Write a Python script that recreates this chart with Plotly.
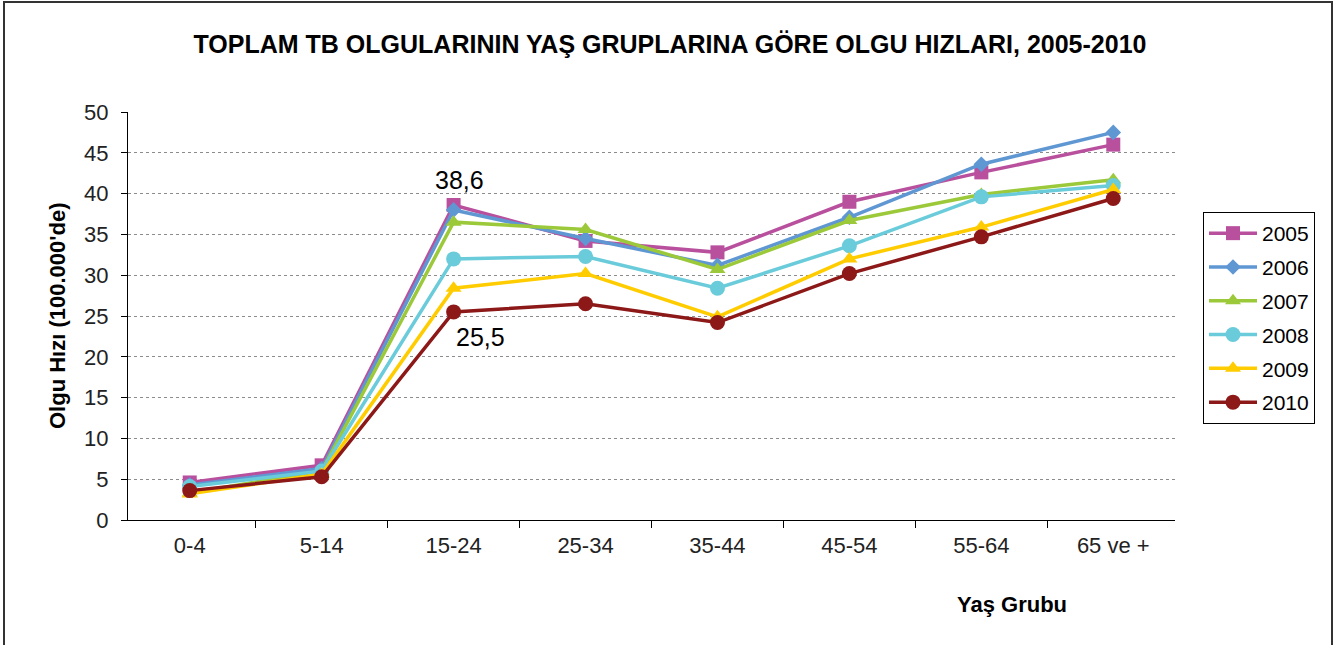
import plotly.graph_objects as go

categories = ["0-4", "5-14", "15-24", "25-34", "35-44", "45-54", "55-64", "65 ve +"]
years = ["2005", "2006", "2007", "2008", "2009", "2010"]
v2005 = [4.6, 6.7, 38.6, 34.2, 32.8, 39.0, 42.6, 46.0]
v2006 = [4.3, 6.3, 38.0, 34.5, 31.2, 37.1, 43.6, 47.5]
v2007 = [3.3, 6.0, 36.5, 35.6, 30.7, 36.7, 39.9, 41.7]
v2008 = [4.1, 6.0, 32.0, 32.3, 28.4, 33.6, 39.6, 41.0]
v2009 = [3.2, 5.6, 28.4, 30.2, 24.9, 32.0, 35.9, 40.5]
v2010 = [3.6, 5.3, 25.5, 26.5, 24.2, 30.2, 34.7, 39.4]
series = [v2005, v2006, v2007, v2008, v2009, v2010]
y_ticks = [0, 5, 10, 15, 20, 25, 30, 35, 40, 45, 50]
grid_vals = [5, 10, 15, 20, 25, 30, 35, 40, 45]

colors = ["#B9509E", "#5F97D3", "#9BC93A", "#6ACBDA", "#FFCC00", "#8C1818"]
symbols = ["square", "diamond", "triangle-up", "circle", "triangle-up", "circle"]
sizes = [14, 12, 14, 15, 14, 15]

FONT = "Liberation Sans, Arial, sans-serif"

fig = go.Figure()
for i, (yr, vals) in enumerate(zip(years, series)):
    fig.add_trace(go.Scatter(
        x=categories, y=vals, name=yr, mode="lines+markers",
        legendgroup=yr,
        line=dict(color=colors[i], width=3.5),
        marker=dict(symbol=symbols[i], size=sizes[i], color=colors[i]),
        hoverinfo="x+y+name",
    ))

# helper overlay axis for the dotted gridlines (no grid at 0 / 50)
fig.add_trace(go.Scatter(x=categories, y=v2005, yaxis="y2", mode="markers",
                         marker=dict(opacity=0), showlegend=False, hoverinfo="skip"))

# data labels
fig.add_annotation(x=categories[2], y=v2005[2], text="38,6",
                   showarrow=False, yshift=25, xshift=6, font=dict(family=FONT, size=25, color="#000"))
fig.add_annotation(x=categories[2], y=v2010[2], text="25,5",
                   showarrow=False, yshift=-25, xshift=27, font=dict(family=FONT, size=25, color="#000"))

# axis titles
fig.add_annotation(xref="paper", yref="paper", x=(57 - 128) / 1047, y=0.5,
                   text="<b>Olgu Hızı (100.000'de)</b>", textangle=-90, showarrow=False,
                   xanchor="center", yanchor="middle",
                   font=dict(family=FONT, size=22, color="#000"))
fig.add_annotation(xref="paper", yref="paper", x=(1012 - 128) / 1047, y=(520 - 604) / 408,
                   text="<b>Yaş Grubu</b>", showarrow=False,
                   xanchor="center", yanchor="middle",
                   font=dict(family=FONT, size=22, color="#000"))

# outer frame
fig.add_shape(type="rect", xref="paper", yref="paper",
              x0=(4 - 128) / 1047, x1=(1332 - 128) / 1047,
              y0=(520 - 680) / 408, y1=(520 - 2) / 408,
              line=dict(color="#333333", width=2), fillcolor="rgba(0,0,0,0)", layer="below")

fig.update_layout(
    width=1337, height=645,
    margin=dict(l=128, r=162, t=112, b=125),
    paper_bgcolor="white", plot_bgcolor="white",
    title=dict(text="<b>TOPLAM TB OLGULARININ YAŞ GRUPLARINA GÖRE OLGU HIZLARI, 2005-2010</b>",
               x=670 / 1337, xanchor="center", xref="container",
               y=1 - 44 / 645, yanchor="middle", yref="container",
               font=dict(family=FONT, size=25, color="#000")),
    font=dict(family=FONT, color="#000"),
    xaxis=dict(type="category", showgrid=False, showline=True, linecolor="#000", linewidth=1,
               ticks="outside", ticklen=7, tickcolor="#000", tickson="boundaries",
               tickfont=dict(family=FONT, size=22, color="#222"), ticklabelstandoff=6,
               zeroline=False),
    yaxis=dict(range=[0, 50], tickvals=y_ticks, showgrid=False, showline=True,
               linecolor="#000", linewidth=1, ticks="outside", ticklen=6, tickcolor="#000",
               tickfont=dict(family=FONT, size=22, color="#222"), ticklabelstandoff=8,
               zeroline=False),
    yaxis2=dict(range=[0, 50], overlaying="y", tickvals=grid_vals, showgrid=True,
                gridcolor="#8C8C8C", griddash="dot", gridwidth=1, showticklabels=False,
                showline=False, zeroline=False, ticks=""),
    legend=dict(x=(1203 - 128) / 1047, y=(520 - 212) / 408, xanchor="left", yanchor="top",
                bordercolor="#000", borderwidth=1, bgcolor="white", itemwidth=48,
                font=dict(family=FONT, size=21, color="#000"), tracegroupgap=3.5),
    showlegend=True,
)

fig.write_html("out.html", config={"displayModeBar": False},
               post_script="document.body.style.margin='0';")
